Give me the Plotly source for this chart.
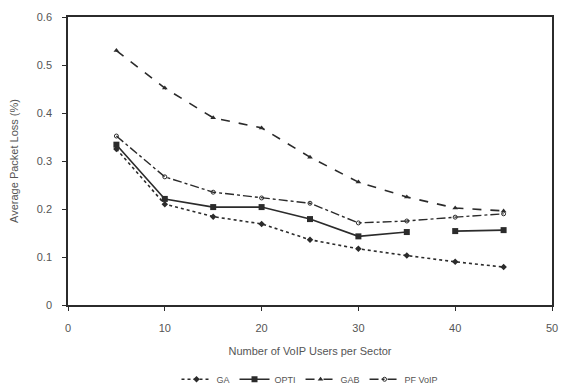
import plotly.graph_objects as go

# Number of VoIP users per sector
users = [5, 10, 15, 20, 25, 30, 35, 40, 45]

# Average packet loss (%) per scheme
ga = [0.325, 0.21, 0.184, 0.169, 0.136, 0.117, 0.103, 0.09, 0.079]
opti = [0.334, 0.221, 0.204, 0.204, 0.179, 0.143, 0.152, 0.154, 0.156]
gab = [0.53, 0.452, 0.39, 0.369, 0.308, 0.256, 0.225, 0.202, 0.196]
pf_voip = [0.352, 0.267, 0.235, 0.223, 0.212, 0.171, 0.175, 0.183, 0.19]

x_ticks = [0, 10, 20, 30, 40, 50]
y_ticks = [0, 0.1, 0.2, 0.3, 0.4, 0.5, 0.6]
y_tick_text = ["0", "0.1", "0.2", "0.3", "0.4", "0.5", "0.6"]

# the OPTI curve is not joined between these two user counts
opti_break = (35, 40)

ink = "#2b2b2b"
text_col = "#555555"
font = "Liberation Sans, Arial, sans-serif"

fig = go.Figure()

fig.add_trace(go.Scatter(
    x=users, y=ga, name="GA", mode="lines+markers",
    line=dict(color=ink, width=1.6, dash="dot"),
    marker=dict(symbol="diamond", size=5, color=ink),
))

# insert a gap in the OPTI line between the break points
ox, oy = [], []
for u, v in zip(users, opti):
    if u == opti_break[1]:
        ox.append(None)
        oy.append(None)
    ox.append(u)
    oy.append(v)
fig.add_trace(go.Scatter(
    x=ox, y=oy, name="OPTI", mode="lines+markers", connectgaps=False,
    line=dict(color=ink, width=1.6),
    marker=dict(symbol="square", size=6, color=ink),
))

fig.add_trace(go.Scatter(
    x=users, y=gab, name="GAB", mode="lines+markers",
    line=dict(color=ink, width=1.6, dash="dash"),
    marker=dict(symbol="triangle-up", size=5, color=ink),
))

fig.add_trace(go.Scatter(
    x=users, y=pf_voip, name="PF VoIP", mode="lines+markers",
    line=dict(color=ink, width=1.4, dash="dashdot"),
    marker=dict(symbol="circle-open", size=4, color=ink),
))

fig.update_layout(
    width=566, height=389,
    margin=dict(l=68, r=14, t=17, b=84, autoexpand=False),
    paper_bgcolor="white", plot_bgcolor="white",
    font=dict(family=font, size=11, color=text_col),
    showlegend=True,
    legend=dict(
        orientation="h", x=0.5, xanchor="center",
        yref="container", y=0.025, yanchor="middle",
        font=dict(size=9, color=text_col),
        itemwidth=30, tracegroupgap=0,
    ),
    xaxis=dict(
        range=[0, 50], tickvals=x_ticks, ticks="outside", ticklen=4,
        ticklabelstandoff=8, automargin=False,
        tickcolor=ink, showline=True, linecolor=ink, linewidth=1.5,
        mirror=True, showgrid=False, zeroline=False,
        title=dict(text="Number of VoIP Users per Sector",
                   font=dict(size=11, color=text_col), standoff=14),
    ),
    yaxis=dict(
        range=[0, 0.6], tickvals=y_ticks, ticktext=y_tick_text,
        ticks="outside", ticklen=4, ticklabelstandoff=8, tickcolor=ink,
        automargin=False,
        showline=True, linecolor=ink, linewidth=1.5, mirror=True,
        showgrid=False, zeroline=False,
        title=dict(text="Average Packet Loss (%)",
                   font=dict(size=11, color=text_col), standoff=16),
    ),
)

fig.write_html("out.html")
